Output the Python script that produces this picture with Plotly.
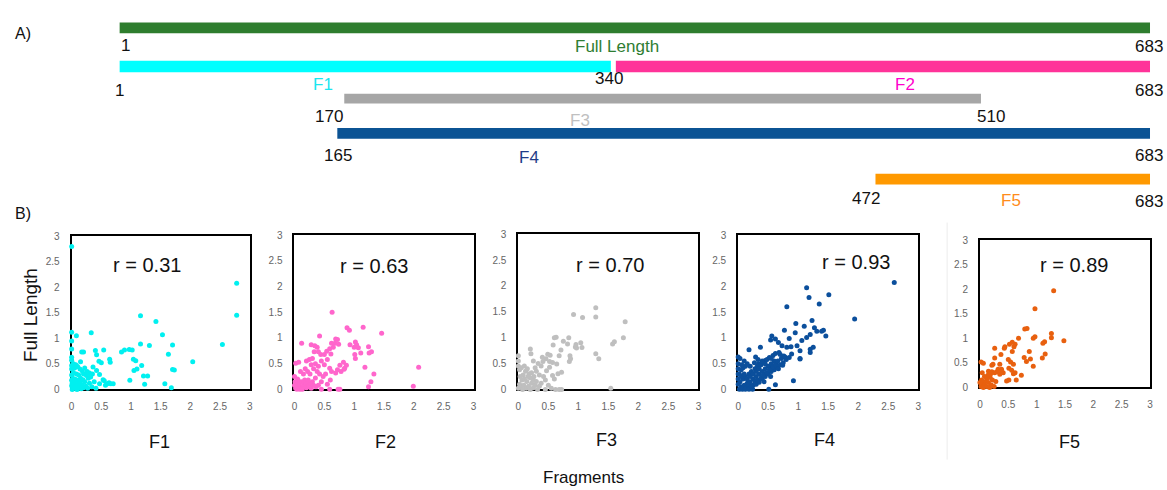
import plotly.graph_objects as go

W, H = 1167, 490

# ---------------- Part A: fragment map ----------------
seg_names = ["Full Length", "F1", "F2", "F3", "F4", "F5"]
seg_first = [1, 1, 340, 170, 165, 472]      # labelled residue numbers
seg_last = [683, 340, 683, 510, 683, 683]
# drawn extents in the (not-to-scale) schematic
seg_draw_start = [1, 1, 329.5, 149.8, 145.2, 501.3]
seg_draw_end = [683, 326.2, 683, 571.1, 683, 683]
seg_colors = ["#2e7d2e", "#00ffff", "#ff3399", "#a6a6a6", "#0b5394", "#ff9900"]
name_colors = ["#2e7d32", "#19e6f0", "#ff00cc", "#c0c0c0", "#1f3c88", "#ff8c1a"]

# ---------------- Part B: scatter data (Fragment vs Full Length) ----------------
frag_names = ["F1", "F2", "F3", "F4", "F5"]
r_values = ["0.31", "0.63", "0.70", "0.93", "0.89"]
frag_colors = ["#00f0f0", "#ff66cc", "#bfbfbf", "#0b4f9c", "#e8600f"]

f1_pts = [(0.00, 2.80), (2.78, 2.08), (2.78, 1.45), (2.54, 0.88), (2.04, 0.54), (1.42, 1.33), (1.16, 1.44),
          (1.53, 1.07), (1.70, 0.87), (1.63, 0.69), (1.31, 0.86), (1.16, 0.89), (1.04, 0.59), (1.08, 0.56),
          (1.02, 0.77), (0.97, 0.78), (0.89, 0.77), (0.84, 0.73), (1.18, 0.47), (1.05, 0.37), (1.10, 0.40),
          (1.70, 0.39), (1.73, 0.38), (1.57, 0.11), (1.68, 0.03), (1.21, 0.26), (1.28, 0.26), (1.23, 0.10),
          (0.98, 0.18), (0.33, 1.11), (0.08, 1.05), (0.00, 1.12), (0.00, 0.95), (0.00, 0.79), (0.17, 0.73),
          (0.20, 0.73), (0.40, 0.76), (0.54, 0.77), (0.42, 0.68), (0.46, 0.55), (0.50, 0.52), (0.64, 0.59),
          (0.65, 0.53), (0.15, 0.54), (0.00, 0.63), (0.00, 0.57), (0.00, 0.47), (0.00, 0.40), (0.36, 0.44),
          (0.42, 0.37), (0.47, 0.29), (0.53, 0.19), (0.60, 0.11), (0.66, 0.11), (0.70, 0.11), (0.47, 0.11),
          (0.41, 0.02), (0.32, 0.24), (0.55, 0.17), (0.63, 0.13), (0.57, 0.08),
          (0.05, 0.42), (0.10, 0.45), (0.14, 0.40), (0.18, 0.36), (0.03, 0.33), (0.08, 0.30), (0.12, 0.28),
          (0.20, 0.30), (0.25, 0.27), (0.28, 0.22), (0.02, 0.22), (0.06, 0.20), (0.10, 0.18), (0.15, 0.22),
          (0.22, 0.15), (0.30, 0.12), (0.01, 0.12), (0.04, 0.10), (0.08, 0.08), (0.12, 0.12), (0.18, 0.09),
          (0.24, 0.06), (0.02, 0.04), (0.06, 0.02), (0.11, 0.03), (0.16, 0.01), (0.20, 0.03), (0.27, 0.02),
          (0.34, 0.05), (0.38, 0.15), (0.01, 0.00), (0.04, 0.06), (0.09, 0.00), (0.13, 0.06), (0.00, 0.28),
          (0.00, 0.18), (0.00, 0.07), (0.22, 0.42), (0.26, 0.35), (0.30, 0.32), (0.35, 0.30), (0.05, 0.15),
          (0.19, 0.19), (0.14, 0.15), (0.03, 0.50), (0.07, 0.48)]

f2_pts = [(0.63, 1.50), (1.15, 1.21), (1.46, 1.09), (0.88, 1.20), (0.92, 1.15), (0.69, 0.98), (0.72, 0.97),
          (0.74, 0.88), (0.68, 0.90), (0.62, 0.90), (0.65, 0.82), (0.59, 0.79), (0.61, 0.69), (1.02, 0.92),
          (1.04, 0.87), (1.07, 0.81), (1.11, 0.71), (0.93, 0.87), (1.00, 0.82), (1.24, 0.83), (1.25, 0.71),
          (1.29, 0.73), (1.01, 0.68), (1.02, 0.60), (1.18, 0.43), (1.33, 0.30), (1.28, 0.15), (1.24, 0.05),
          (2.08, 0.43), (1.99, 0.06), (0.42, 1.04), (0.38, 0.82), (0.33, 0.73), (0.40, 0.73), (0.44, 0.68),
          (0.12, 0.90), (0.28, 0.87), (0.34, 0.85), (0.50, 0.68), (0.54, 0.74),
          (0.59, 0.41), (0.62, 0.35), (0.69, 0.32), (0.72, 0.38), (0.78, 0.35), (0.84, 0.41), (0.82, 0.53),
          (0.87, 0.47), (0.83, 0.39), (0.76, 0.47), (0.02, 0.51), (0.07, 0.53), (0.45, 0.00), (0.59, 0.00),
          (0.73, 0.00), (0.76, 0.00),
          (0.20, 0.55), (0.25, 0.58), (0.30, 0.60), (0.28, 0.48), (0.35, 0.50), (0.40, 0.45), (0.45, 0.55),
          (0.50, 0.48), (0.55, 0.58), (0.18, 0.40), (0.22, 0.35), (0.32, 0.40), (0.38, 0.35), (0.42, 0.30),
          (0.48, 0.25), (0.52, 0.30), (0.26, 0.30), (0.15, 0.30), (0.10, 0.35), (0.35, 0.22), (0.45, 0.15),
          (0.55, 0.10), (0.60, 0.18), (0.30, 0.15), (0.40, 0.08), (0.36, 0.05), (0.05, 0.20), (0.00, 0.25),
          (0.02, 0.02), (0.05, 0.05), (0.08, 0.10), (0.12, 0.15), (0.15, 0.12), (0.18, 0.08), (0.20, 0.03),
          (0.22, 0.10), (0.25, 0.05), (0.10, 0.02), (0.03, 0.12), (0.06, 0.18), (0.14, 0.05), (0.17, 0.18),
          (0.00, 0.08), (0.09, 0.00), (0.13, 0.00), (0.27, 0.12), (0.04, 0.00), (0.19, 0.14), (0.23, 0.18),
          (0.28, 0.02), (0.32, 0.08), (0.01, 0.15)]

f3_pts = [(1.29, 1.58), (1.29, 1.40), (1.07, 1.39), (0.92, 1.45), (1.78, 1.31), (1.75, 1.00), (1.57, 0.88),
          (1.60, 0.92), (1.29, 0.69), (1.34, 0.59), (1.54, 0.02), (0.63, 1.01), (0.60, 1.00), (0.75, 0.93),
          (0.84, 1.00), (0.82, 0.88), (0.96, 0.87), (0.97, 0.80), (1.04, 0.90), (1.06, 0.81), (0.95, 0.82),
          (0.86, 0.65), (0.87, 0.59), (0.85, 0.54), (0.71, 0.76), (0.68, 0.65), (0.58, 0.86), (0.20, 0.78),
          (0.21, 0.69),
          (0.49, 0.68), (0.53, 0.66), (0.40, 0.62), (0.46, 0.59), (0.52, 0.54), (0.41, 0.54), (0.57, 0.52),
          (0.64, 0.49), (0.52, 0.43), (0.47, 0.36), (0.57, 0.27), (0.66, 0.30), (0.72, 0.33), (0.60, 0.20),
          (0.38, 0.45), (0.33, 0.50), (0.28, 0.42), (0.25, 0.55), (0.30, 0.35), (0.35, 0.28), (0.42, 0.25),
          (0.45, 0.18), (0.38, 0.12), (0.50, 0.08), (0.55, 0.02), (0.62, 0.00), (0.68, 0.00), (0.72, 0.00),
          (0.45, 0.00),
          (0.00, 0.65), (0.00, 0.55), (0.00, 0.45), (0.02, 0.38), (0.05, 0.42), (0.10, 0.45), (0.12, 0.35),
          (0.15, 0.40), (0.18, 0.30), (0.08, 0.28), (0.03, 0.25), (0.06, 0.18), (0.10, 0.20), (0.14, 0.15),
          (0.20, 0.22), (0.22, 0.12), (0.25, 0.18), (0.28, 0.08), (0.30, 0.15), (0.02, 0.10), (0.05, 0.05),
          (0.09, 0.08), (0.13, 0.02), (0.17, 0.06), (0.20, 0.00), (0.25, 0.03), (0.32, 0.00), (0.35, 0.06),
          (0.00, 0.02), (0.07, 0.00), (0.16, 0.25), (0.22, 0.32), (0.26, 0.25)]

f4_pts = [(2.60, 2.08), (1.94, 1.37), (1.14, 1.98), (1.18, 1.79), (1.51, 1.84), (1.35, 1.66), (0.81, 1.61),
          (1.23, 1.34), (0.96, 1.28), (1.10, 1.23), (1.27, 1.20), (1.31, 1.13), (1.39, 1.13), (1.42, 1.15),
          (1.46, 1.04), (1.20, 1.07), (1.14, 1.01), (1.06, 0.95), (0.95, 1.10), (0.77, 1.15), (0.85, 0.99),
          (0.62, 0.98), (0.56, 1.04), (0.54, 0.96), (0.67, 0.91), (0.73, 0.85), (0.81, 0.82), (0.88, 0.83),
          (0.98, 0.85), (1.03, 0.75), (1.20, 0.78), (1.25, 0.82), (1.20, 0.72), (1.03, 0.60), (0.89, 0.69),
          (0.78, 0.63), (0.74, 0.47), (0.63, 0.50), (0.67, 0.40), (0.56, 0.44), (0.45, 0.56), (0.37, 0.82),
          (0.18, 0.77), (0.00, 0.63), (0.29, 0.63), (0.34, 0.50), (0.45, 0.31), (0.54, 0.25), (0.62, 0.09),
          (0.43, 0.15), (0.92, 0.17), (0.51, 0.00), (1.03, 0.59),
          (0.05, 0.05), (0.10, 0.08), (0.15, 0.12), (0.20, 0.15), (0.25, 0.20), (0.30, 0.25), (0.35, 0.30),
          (0.40, 0.35), (0.45, 0.40), (0.50, 0.45), (0.55, 0.50), (0.60, 0.55), (0.03, 0.15), (0.08, 0.20),
          (0.12, 0.25), (0.18, 0.30), (0.22, 0.35), (0.28, 0.40), (0.32, 0.45), (0.38, 0.48), (0.42, 0.52),
          (0.48, 0.58), (0.52, 0.62), (0.58, 0.66), (0.62, 0.70), (0.68, 0.72), (0.10, 0.02), (0.15, 0.04),
          (0.20, 0.06), (0.25, 0.08), (0.30, 0.10), (0.35, 0.14), (0.40, 0.20), (0.45, 0.25), (0.50, 0.30),
          (0.55, 0.35), (0.60, 0.38), (0.65, 0.42), (0.70, 0.48), (0.75, 0.52), (0.80, 0.58), (0.85, 0.62),
          (0.02, 0.30), (0.05, 0.38), (0.08, 0.42), (0.12, 0.45), (0.00, 0.50), (0.00, 0.40), (0.00, 0.30),
          (0.00, 0.20), (0.00, 0.10), (0.02, 0.00), (0.07, 0.00), (0.12, 0.00), (0.18, 0.00), (0.24, 0.00),
          (0.05, 0.25), (0.10, 0.30), (0.15, 0.20), (0.20, 0.25), (0.25, 0.30), (0.30, 0.35), (0.35, 0.40),
          (0.18, 0.10), (0.22, 0.05), (0.28, 0.15), (0.32, 0.18), (0.38, 0.22), (0.42, 0.28), (0.48, 0.32),
          (0.52, 0.38), (0.58, 0.44), (0.62, 0.48), (0.66, 0.55), (0.72, 0.60), (0.76, 0.65), (0.70, 0.68),
          (0.55, 0.60), (0.45, 0.50), (0.40, 0.55), (0.33, 0.58), (0.27, 0.52), (0.20, 0.45), (0.15, 0.50),
          (0.10, 0.55), (0.06, 0.48), (0.03, 0.60)]

f5_pts = [(1.30, 1.97), (0.97, 1.60), (1.48, 0.95), (1.26, 1.10), (1.26, 1.01), (1.14, 0.93), (1.11, 0.90),
          (1.15, 0.68), (1.10, 0.60), (0.97, 1.03), (0.94, 1.00), (0.79, 1.19), (0.83, 1.20), (0.68, 1.00),
          (0.87, 0.73), (0.89, 0.58), (0.94, 0.43), (0.78, 0.61), (0.82, 0.53), (0.60, 0.83), (0.62, 0.88),
          (0.57, 0.92), (0.52, 0.88), (0.44, 0.83), (0.43, 0.80), (0.26, 0.80), (0.57, 0.73), (0.54, 0.52),
          (0.59, 0.47), (0.62, 0.30), (0.50, 0.57), (0.51, 0.39), (0.56, 0.35), (0.59, 0.28), (0.37, 0.67),
          (0.35, 0.47), (0.32, 0.37), (0.41, 0.30), (0.38, 0.37), (0.47, 0.13), (0.51, 0.15), (0.64, 0.15),
          (0.73, 0.25), (0.02, 0.52), (0.06, 0.49), (0.21, 0.45), (0.23, 0.47), (0.15, 0.33), (0.21, 0.32),
          (0.26, 0.30), (0.30, 0.32), (0.35, 0.27), (0.38, 0.32), (0.26, 0.60),
          (0.02, 0.02), (0.05, 0.08), (0.08, 0.05), (0.10, 0.12), (0.12, 0.18), (0.15, 0.10), (0.18, 0.20),
          (0.20, 0.05), (0.22, 0.15), (0.25, 0.02), (0.03, 0.15), (0.00, 0.10), (0.06, 0.00), (0.12, 0.02),
          (0.17, 0.00), (0.28, 0.12), (0.14, 0.25), (0.08, 0.22), (0.04, 0.30), (0.19, 0.28)]

all_pts = [f1_pts, f2_pts, f3_pts, f4_pts, f5_pts]

tick_vals = [0, 0.5, 1, 1.5, 2, 2.5, 3]
tick_text = ["0", "0.5", "1", "1.5", "2", "2.5", "3"]

# ---------------- layout geometry (pixels) ----------------
# panel boxes: (left, right, top, bottom)
panel_box = [(69, 248, 236, 393), (293, 473, 235, 393), (518, 699, 234, 393),
             (739, 920, 235, 393), (982, 1153, 240, 391)]
r_pos = [(145, 266), (373, 267), (610, 265), (857, 262), (1077, 266)]
frag_label_pos = [(157, 447), (384, 447), (607, 445), (826, 445), (1072, 447)]

A_left, A_right, A_height = 117, 1153, 210
track_y = [22.5, 62, 62, 95, 130.5, 177.5]
track_h = [11, 12, 12, 10, 11, 11]
FONT = "Liberation Sans"


def px2a(px):
    """pixel x -> schematic coordinate of part A"""
    return 1 + (px - A_left) * (683 - 1) / (A_right - A_left)


fig = go.Figure()

# Part A bars
fig.add_trace(go.Bar(
    y=track_y, base=seg_draw_start,
    x=[e - s for s, e in zip(seg_draw_start, seg_draw_end)],
    orientation="h", width=track_h,
    marker=dict(color=seg_colors, line=dict(width=0)),
    xaxis="x6", yaxis="y6", showlegend=False, hoverinfo="skip"))

annotations = []
# number labels: (segment index, which end, xshift, y, anchor)
num_labels = [(0, "start", 0, 40, "left"), (0, "end", -1, 41, "center"),
              (1, "start", 0, 87, "center"), (1, "end", -2, 74, "center"),
              (2, "end", -1, 87, "center"),
              (3, "start", -15, 113, "center"), (3, "end", 10, 113, "center"),
              (4, "start", 1, 153, "center"), (4, "end", -1, 153, "center"),
              (5, "start", -9, 197, "center"), (5, "end", -1, 200, "center")]
for idx, which, xs, yy, anch in num_labels:
    xv = seg_draw_start[idx] if which == "start" else seg_draw_end[idx]
    txt = seg_first[idx] if which == "start" else seg_last[idx]
    annotations.append(dict(x=xv, y=yy, xref="x6", yref="y6", text=str(txt), showarrow=False,
                            xshift=xs, xanchor=anch, yanchor="middle",
                            font=dict(family=FONT, size=17, color="#111111")))

name_px = [(617, 41), (322, 80), (907, 80), (580, 117), (529, 155), (1013, 199)]
for i, (nx, ny) in enumerate(name_px):
    annotations.append(dict(x=px2a(nx), y=ny, xref="x6", yref="y6", text=seg_names[i], showarrow=False,
                            xanchor="center", yanchor="middle",
                            font=dict(family=FONT, size=17, color=name_colors[i])))

annotations.append(dict(x=10 / W, y=1 - 28 / H, xref="paper", yref="paper", text="A)", showarrow=False,
                        xanchor="left", yanchor="middle", font=dict(family=FONT, size=16, color="#111111")))
annotations.append(dict(x=10 / W, y=1 - 213 / H, xref="paper", yref="paper", text="B)", showarrow=False,
                        xanchor="left", yanchor="middle", font=dict(family=FONT, size=16, color="#111111")))

layout_axes = {}
layout_axes["xaxis6"] = dict(domain=[A_left / W, A_right / W], range=[1, 683], visible=False, fixedrange=True)
layout_axes["yaxis6"] = dict(domain=[1 - A_height / H, 1], range=[A_height, 0], visible=False, fixedrange=True)

for i, pts in enumerate(all_pts):
    n = "" if i == 0 else str(i + 1)
    xs = [p[0] for p in pts]
    ys = [p[1] for p in pts]
    fig.add_trace(go.Scatter(x=xs, y=ys, mode="markers", xaxis="x" + n, yaxis="y" + n,
                             marker=dict(size=5, color=frag_colors[i], line=dict(width=0)),
                             cliponaxis=False, showlegend=False, hoverinfo="skip"))
    l, r, t, b = panel_box[i]
    common = dict(range=[0, 3], tickvals=tick_vals, ticktext=tick_text, showgrid=False, zeroline=False,
                  showline=True, linecolor="black", linewidth=2, mirror=True, ticks="",
                  layer="below traces",
                  tickfont=dict(family=FONT, size=10, color="#666666"), fixedrange=True)
    layout_axes["xaxis" + n] = dict(domain=[l / W, r / W], anchor="y" + n, ticklabelstandoff=7, **common)
    layout_axes["yaxis" + n] = dict(domain=[1 - b / H, 1 - t / H], anchor="x" + n, ticklabelstandoff=8, **common)
    annotations.append(dict(x=r_pos[i][0] / W, y=1 - r_pos[i][1] / H, xref="paper", yref="paper",
                            text="r = " + r_values[i], showarrow=False, xanchor="center", yanchor="middle",
                            font=dict(family=FONT, size=20, color="#111111")))
    annotations.append(dict(x=frag_label_pos[i][0] / W, y=1 - frag_label_pos[i][1] / H, xref="paper",
                            yref="paper", text=frag_names[i], showarrow=False, xanchor="center",
                            yanchor="middle", font=dict(family=FONT, size=18, color="#111111")))

annotations.append(dict(x=27 / W, y=1 - 317 / H, xref="paper", yref="paper", text="Full Length",
                        showarrow=False, textangle=-90, xanchor="center", yanchor="middle",
                        font=dict(family=FONT, size=19, color="#111111")))
annotations.append(dict(x=583 / W, y=1 - 483 / H, xref="paper", yref="paper", text="Fragments",
                        showarrow=False, xanchor="center", yanchor="middle",
                        font=dict(family=FONT, size=17, color="#111111")))

fig.update_layout(
    width=W, height=H, autosize=False,
    margin=dict(l=0, r=0, t=0, b=0),
    paper_bgcolor="white", plot_bgcolor="rgba(0,0,0,0)",
    barmode="overlay", showlegend=False,
    annotations=annotations,
    shapes=[dict(type="line", xref="paper", yref="paper", x0=949 / W, x1=949 / W,
                 y0=1 - 465 / H, y1=1 - 222 / H, line=dict(color="#ececec", width=1))],
    **layout_axes)

fig.write_html("out.html", config={"displayModeBar": False},
               post_script="document.body.style.margin='0px';document.body.style.overflow='hidden';")
